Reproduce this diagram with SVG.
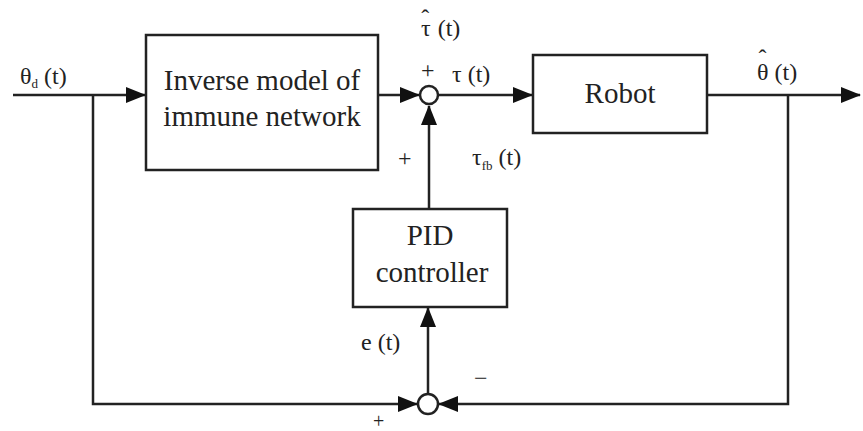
<svg xmlns="http://www.w3.org/2000/svg" width="863" height="431" viewBox="0 0 863 431">
<style>
.box{fill:#fff;stroke:#222;stroke-width:2.5}
.ln{fill:none;stroke:#222;stroke-width:2.5}
.t{font-family:"Liberation Serif","Times New Roman",serif;fill:#222}
.bt{font-size:29px;text-anchor:middle}
.lb{font-size:24px}
</style>
<defs>
<marker id="ah" markerUnits="userSpaceOnUse" markerWidth="20" markerHeight="16" refX="19" refY="8" orient="auto">
<path d="M0,0 L20,8 L0,16 z" fill="#111"/>
</marker>
</defs>
<g id="connectors">
<path class="ln" d="M13,95 H145" marker-end="url(#ah)"/>
<path class="ln" d="M378,95 H419" marker-end="url(#ah)"/>
<path class="ln" d="M438,95 H532" marker-end="url(#ah)"/>
<path class="ln" d="M707,95 H860" marker-end="url(#ah)"/>
<path class="ln" d="M93,95 V404 H417" marker-end="url(#ah)"/>
<path class="ln" d="M788,95 V404 H439" marker-end="url(#ah)"/>
<path class="ln" d="M429,209 V106" marker-end="url(#ah)"/>
<path class="ln" d="M428,394 V308" marker-end="url(#ah)"/>
</g>
<g id="inverse-model">
<rect class="box" x="146" y="35" width="232" height="135"/>
<text class="t bt" x="262" y="90">Inverse model of</text>
<text class="t bt" x="262" y="126">immune network</text>
</g>
<g id="robot">
<rect class="box" x="533" y="55" width="174" height="78"/>
<text class="t bt" x="620" y="103">Robot</text>
</g>
<g id="pid">
<rect class="box" x="353" y="209" width="154" height="98"/>
<text class="t bt" x="430" y="245">PID</text>
<text class="t bt" x="432" y="282">controller</text>
</g>
<g id="sum1">
<circle class="box" cx="429" cy="95" r="9"/>
</g>
<g id="sum2">
<circle class="box" cx="428" cy="404" r="10"/>
</g>
<g id="labels">
<text class="t lb" x="20" y="84">θ<tspan font-size="13" dy="4">d</tspan><tspan dy="-4"> (t)</tspan></text>
<text class="t lb" x="421" y="36">τ<tspan dx="-9.5" dy="-10">ˆ</tspan><tspan dx="2.5" dy="10"> (t)</tspan></text>
<text class="t lb" x="421" y="78">+</text>
<text class="t lb" x="452" y="82">τ (t)</text>
<text class="t lb" x="757" y="80">θ<tspan dx="-10" dy="-14">ˆ</tspan><tspan dx="2" dy="14"> (t)</tspan></text>
<text class="t lb" x="398" y="166">+</text>
<text class="t lb" x="472" y="165">τ<tspan font-size="13" dy="5">fb</tspan><tspan dy="-5"> (t)</tspan></text>
<text class="t lb" x="361" y="350">e (t)</text>
<text class="t lb" x="474" y="386">−</text>
<text class="t" font-size="20" x="373" y="428">+</text>
</g>
</svg>
